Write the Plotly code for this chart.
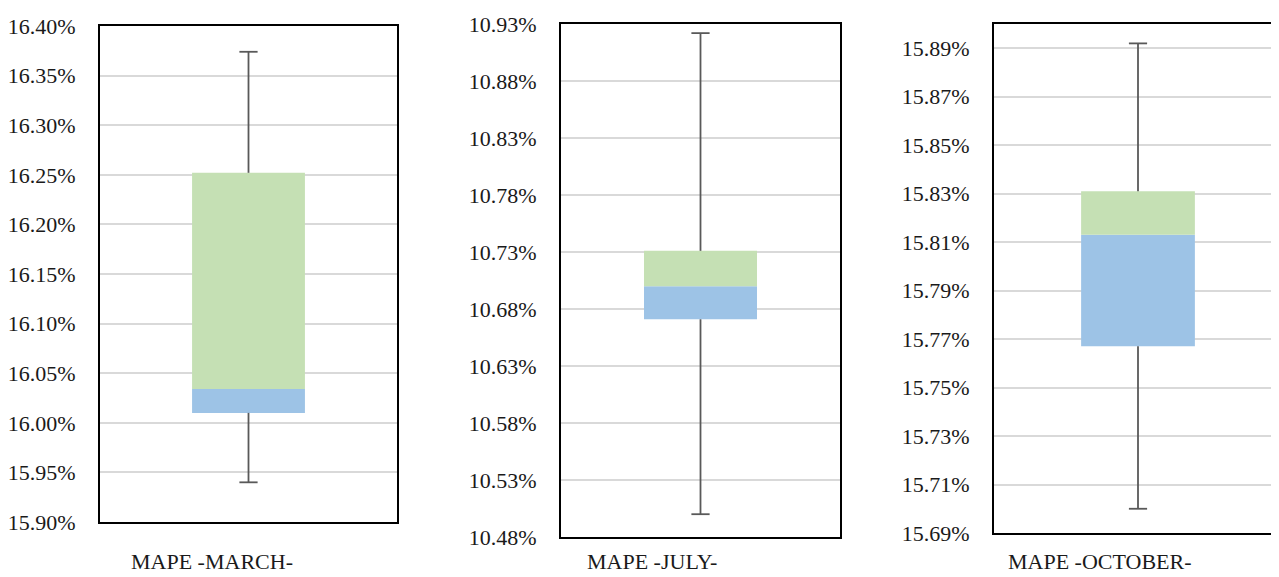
import plotly.graph_objects as go

# box statistics (fractions)
panels = ["MAPE -MARCH-", "MAPE -JULY-", "MAPE -OCTOBER-"]
mins = [0.15940, 0.10500, 0.15700]
q1s = [0.16010, 0.10671, 0.15767]
medians = [0.16034, 0.10700, 0.15813]
q3s = [0.16252, 0.10731, 0.15831]
maxs = [0.16374, 0.10922, 0.15892]

y_ranges = [[0.1590, 0.1640], [0.1048, 0.1093], [0.1569, 0.1590]]
y_dticks = [0.0005, 0.0005, 0.0002]

W, H = 1300, 577
PAD = 8  # page body margin
# plot area edges in screen pixels: left, right, top, bottom
areas = [(100, 397, 26, 522), (561, 840, 24, 537), (994, 1282, 24, 533)]
bar_widths = [0.38, 0.405, 0.395]
title_x = [212, 652, 1100]
title_y = 561

BLUE = "#9DC3E6"
GREEN = "#C5E0B4"
WHISK = "#595959"
FONT = "Liberation Serif, DejaVu Serif, serif"

fig = go.Figure()
layout = dict(
    width=W, height=H, margin=dict(l=0, r=0, t=0, b=0, autoexpand=False),
    paper_bgcolor="white", plot_bgcolor="white", showlegend=False,
    barmode="overlay", font=dict(family=FONT, size=22, color="#1a1a1a"),
    annotations=[],
)

for i, name in enumerate(panels):
    n = "" if i == 0 else str(i + 1)
    xa, ya = "x" + n, "y" + n
    fig.add_trace(go.Scatter(
        x=[name, name, None, name, name],
        y=[mins[i], q1s[i], None, q3s[i], maxs[i]],
        mode="lines", line=dict(color=WHISK, width=1.8),
        xaxis=xa, yaxis=ya, hoverinfo="skip"))
    fig.add_trace(go.Scatter(
        x=[name, name], y=[mins[i], maxs[i]], mode="markers",
        marker=dict(symbol="line-ew", size=13, line=dict(color=WHISK, width=1.8)),
        xaxis=xa, yaxis=ya, hoverinfo="skip"))
    fig.add_trace(go.Bar(
        x=[name], y=[medians[i] - q1s[i]], base=[q1s[i]], width=bar_widths[i],
        marker=dict(color=BLUE, line=dict(width=0)), xaxis=xa, yaxis=ya))
    fig.add_trace(go.Bar(
        x=[name], y=[q3s[i] - medians[i]], base=[medians[i]], width=bar_widths[i],
        marker=dict(color=GREEN, line=dict(width=0)), xaxis=xa, yaxis=ya))

    l, r, t, b = [v - PAD for v in areas[i]]
    layout["xaxis" + n] = dict(
        domain=[l / W, min(r / W, 1)], range=[-0.5, 0.5], showticklabels=False,
        showgrid=False, zeroline=False, showline=True, linecolor="black",
        linewidth=1.8, mirror=True, anchor=ya, fixedrange=True, automargin=False)
    layout["yaxis" + n] = dict(
        domain=[1 - b / H, 1 - t / H], range=y_ranges[i], tick0=y_ranges[i][0],
        dtick=y_dticks[i], tickformat=".2%", showgrid=True, gridcolor="#D9D9D9",
        gridwidth=1.5, zeroline=False, showline=True, linecolor="black",
        linewidth=1.8, mirror=(i < 2), ticks="", ticklabelstandoff=18,
        anchor=xa, fixedrange=True, automargin=False)
    layout["annotations"].append(dict(
        text=name, x=(title_x[i] - PAD) / W, y=1 - (title_y - PAD) / H,
        xref="paper", yref="paper", xanchor="center", yanchor="middle",
        showarrow=False, font=dict(family=FONT, size=22, color="#1a1a1a")))

fig.update_layout(**layout)
fig.write_html("out.html")
